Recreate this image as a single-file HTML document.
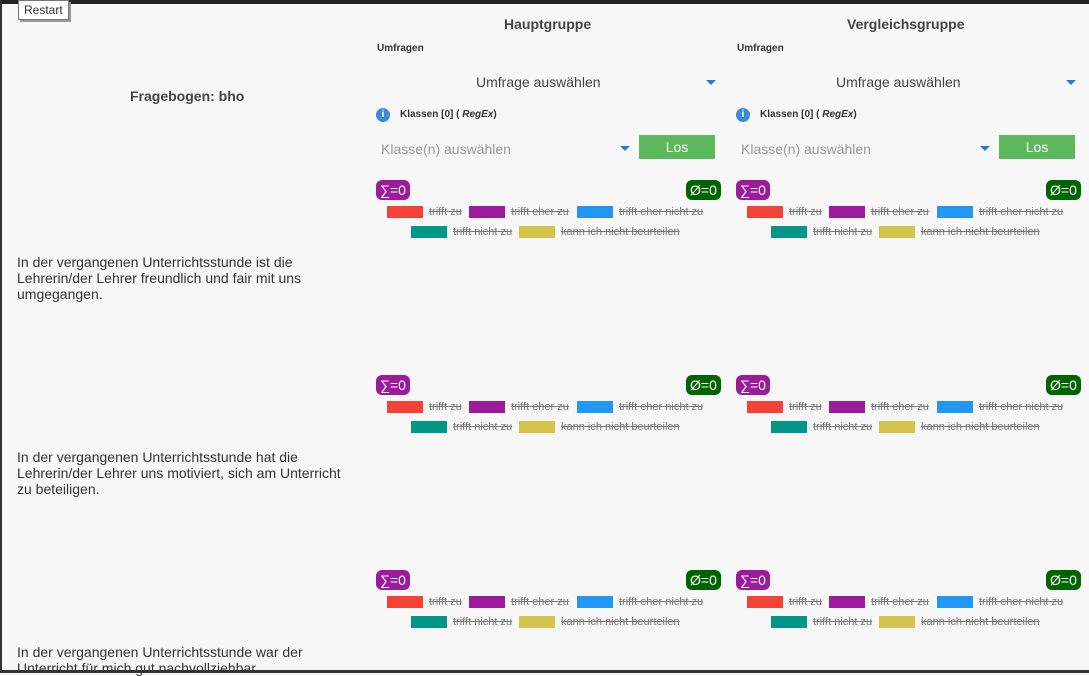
<!DOCTYPE html>
<html><head><meta charset="utf-8">
<style>
*{box-sizing:border-box;margin:0;padding:0}
body{width:1089px;height:673px;overflow:hidden;background:#f7f7f7;font-family:"Liberation Sans",Arial,sans-serif;color:#333;position:relative}
.a{position:absolute;white-space:nowrap}
.h{font-weight:bold;font-size:14px;color:#444}
.small{font-size:10px;font-weight:bold;color:#333}
.sel{font-size:14px;color:#444}
.ph{font-size:14px;color:#999}
.tri{width:0;height:0;border-left:5px solid transparent;border-right:5px solid transparent;border-top:5px solid #2a7ad8}
.btn{background:#5cb85c;color:#fff;font-size:14px;text-align:center;line-height:24px;width:76px;height:24px}
.badge{height:20px;line-height:20px;border-radius:6px;color:#fff;font-size:14px;padding:0 4px}
.sw{width:36px;height:12px}
.lt{font-size:11px;color:#777;text-decoration:line-through;line-height:12px}
.q{font-size:14px;color:#333;line-height:16px;white-space:normal;width:340px}
.info{width:14px;height:14px;border-radius:50%;background:#3a8ad6;color:#fff;font-size:10px;font-weight:bold;text-align:center;line-height:14px}
</style></head><body>
<div class="a" style="left:0;top:0;width:1089px;height:4px;background:#222"></div>
<div class="a" style="left:0;top:0;width:2px;height:673px;background:#333"></div>
<div class="a" style="left:0;top:670px;width:1089px;height:3px;background:#333"></div>
<div class="a" style="left:18px;top:0;height:20px;padding:0 5px;border:1px solid #777;background:#fff;font-size:12px;line-height:18px;box-shadow:2px 2px 0 #999">Restart</div>
<div class="a h" style="left:130px;top:88px">Fragebogen: bho</div>
<div class="a h" style="left:504px;top:16px">Hauptgruppe</div>
<div class="a h" style="left:847px;top:16px">Vergleichsgruppe</div>
<div id="root"></div>
<script>
const legendLabels=["trifft zu","trifft eher zu","trifft eher nicht zu","trifft nicht zu","kann ich nicht beurteilen"];
const legendColors=["#f44336","#9c1a9c","#2196f3","#009688","#d4c44a"];
const sums=[0,0,0,0,0,0];
const avgs=[0,0,0,0,0,0];
const questions=["In der vergangenen Unterrichtsstunde ist die Lehrerin/der Lehrer freundlich und fair mit uns umgegangen.","In der vergangenen Unterrichtsstunde hat die Lehrerin/der Lehrer uns motiviert, sich am Unterricht zu beteiligen.","In der vergangenen Unterrichtsstunde war der Unterricht für mich gut nachvollziehbar."];
const root=document.getElementById('root');
function mk(cls,x,y,html,st){const d=document.createElement('div');d.className='a '+cls;d.style.left=x+'px';d.style.top=y+'px';if(html!=null)d.innerHTML=html;if(st)d.style.cssText+=st;root.appendChild(d);return d;}
const panels=[376,736];
const lx=[[11,53],[93,135],[201,243],[35,77],[143,185]];
const ly=[26,26,26,46,46];
panels.forEach((px,pi)=>{
 let e;
 e=mk('small',px+1,43,'Umfragen');
 e=mk('sel',px+100,74,'Umfrage auswählen');
 e=mk('tri',px+330,80);
 e=mk('info',px,108,'i');
 e=mk('small',px+24,109,'Klassen [0] ( <i>RegEx</i>)');
 e=mk('ph',px+5,141,'Klasse(n) auswählen');
 e=mk('tri',px+244,146);
 e=mk('btn',px+263,135,'Los');
 for(let b=0;b<3;b++){
  const by=180+b*195;
  e=mk('badge',px,by,'∑='+sums[b*2+pi],'background:#9c1a9c');
  e=mk('badge',px+310,by,'Ø='+avgs[b*2+pi],'background:#006400');
  legendLabels.forEach((l,i)=>{
   e=mk('sw',px+lx[i][0],by+ly[i],null,'background:'+legendColors[i]);
   e=mk('lt',px+lx[i][1],by+ly[i],l);
  });
 }
});
questions.forEach((q,i)=>{
 const e=mk('q',17,254+i*195,q);
 
 
});
</script>
</body></html>
